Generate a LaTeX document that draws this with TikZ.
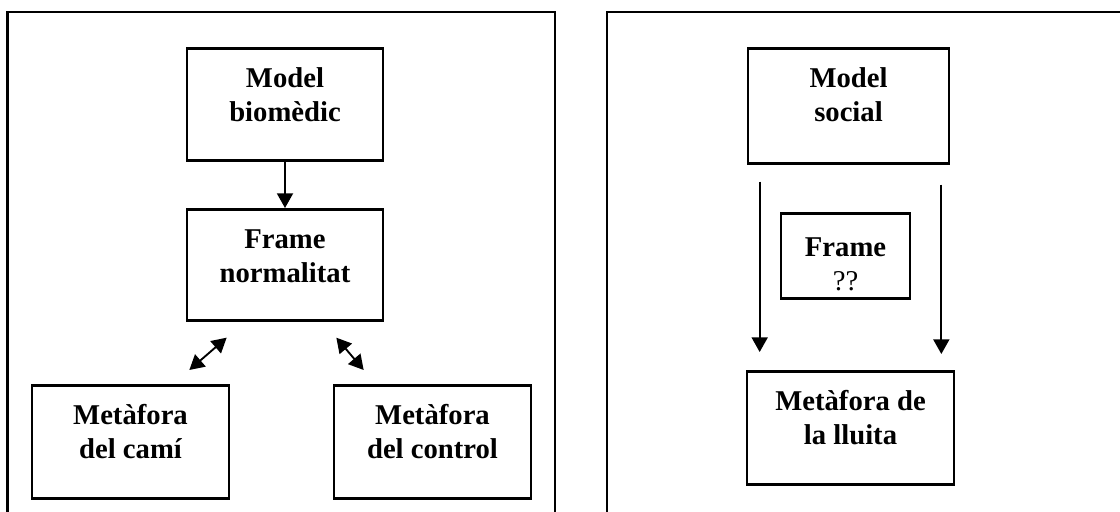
\documentclass[tikz,border=0pt]{standalone}
\usepackage{fontspec}
\setmainfont{Liberation Serif}
\usetikzlibrary{arrows.meta}

\begin{document}
\begin{tikzpicture}[x=0.75pt,y=-0.75pt,->,>={Triangle[length=11pt,width=12pt]},line width=1.4pt,main node/.style={draw,line width=2pt,align=center,inner sep=0pt,anchor=north,text height=54.75pt,text depth=#1,font=\fontsize{21.5}{25.5}\selectfont\bfseries}]

				\useasboundingbox (0,0) rectangle (1120,511);
				\clip (0,0) rectangle (1120,511);
				\fill[-,white] (0,0) rectangle (1120,511);

				\draw[-,line width=2pt] (7.5,530) |- (555,12) -- (555,530);
				\draw[-,line width=2pt] (607,530) |- (1130,12);

				\node[main node=29.25pt,minimum width=147pt] (1) at (285,47) {Model\\biomèdic};
				\node[main node=28.5pt,minimum width=147pt] (2) at (285,208) {Frame\\normalitat};
				\node[main node=30pt,minimum width=147.75pt] (3) at (130.5,384) {Metàfora\\del camí};
				\node[main node=30pt,minimum width=147.75pt] (4) at (432.5,384) {Metàfora\\del control};

				\node[main node=31.5pt,minimum width=150.75pt] (5) at (848.5,47) {Model\\social};
				\node[main node=6pt,text height=57.75pt,minimum width=96.75pt] (6) at (845.5,212) {Frame\\{\mdseries ??}};
				\node[main node=30pt,minimum width=155.25pt] (7) at (850.5,370) {Metàfora de\\la lluita};

				\path[] (1) edge (2);
				\path[<->] ([shift={(41,16)}]2.south west) edge ([shift={(-41,-14)}]3.north east);
				\path[<->] ([shift={(-48,16)}]2.south east) edge ([shift={(31,-14)}]4.north west);

				\path[] ([shift={(13,17)}]5.south west) edge ([shift={(14,-18)}]7.north west);
				\path[] ([shift={(-9,20)}]5.south east) edge ([shift={(-14,-16)}]7.north east);
				\end{tikzpicture}
\end{document}
